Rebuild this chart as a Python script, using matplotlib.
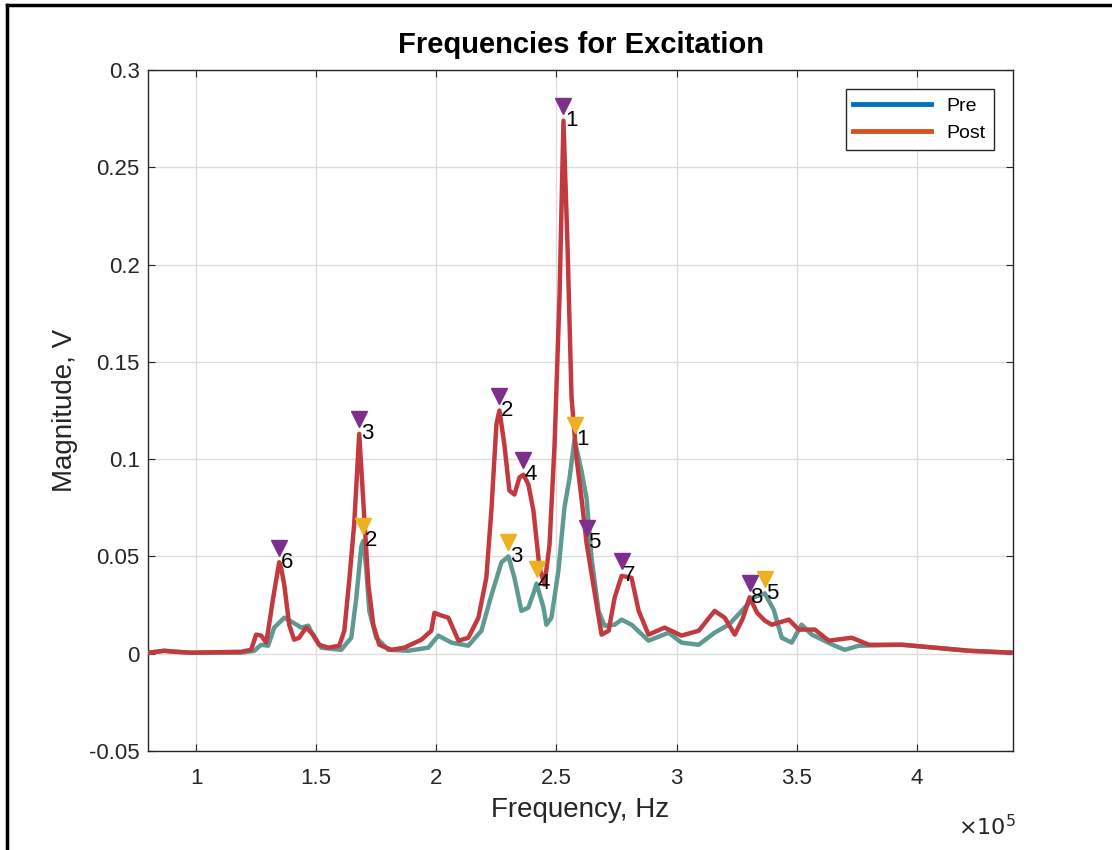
import matplotlib
matplotlib.use('Agg')
import matplotlib.pyplot as plt
from matplotlib.lines import Line2D
import matplotlib.ticker as mticker
import numpy as np

plt.rcParams['font.family'] = ['Liberation Sans', 'DejaVu Sans']

# spectrum, frequency in units of 1e5 Hz
post_f = [0.804, 0.867, 0.908, 0.979, 1.1875, 1.229, 1.25, 1.271, 1.292, 1.304, 1.321, 1.346, 1.354,
          1.367, 1.3875, 1.408, 1.429, 1.458, 1.4875, 1.5125, 1.55, 1.596, 1.617, 1.6375, 1.658, 1.679,
          1.70, 1.717, 1.7375, 1.7625, 1.8125, 1.867, 1.9375, 1.979, 1.992, 2.021, 2.05, 2.092, 2.133,
          2.175, 2.208, 2.229, 2.25, 2.2625, 2.283, 2.304, 2.325, 2.346, 2.3625, 2.383, 2.404, 2.429,
          2.45, 2.471, 2.492, 2.5125, 2.529, 2.546, 2.5625, 2.583, 2.604, 2.625, 2.658, 2.6875, 2.717,
          2.742, 2.771, 2.8125, 2.842, 2.883, 2.95, 3.02, 3.092, 3.158, 3.2, 3.242, 3.275, 3.304, 3.335,
          3.367, 3.396, 3.467, 3.508, 3.575, 3.633, 3.729, 3.8, 3.9375, 4.075, 4.217, 4.396]
post_v = [0.0005, 0.0015, 0.001, 0.0005, 0.001, 0.002, 0.0098, 0.0093, 0.0057, 0.0149, 0.0288, 0.047, 0.044,
          0.0355, 0.0149, 0.0072, 0.0082, 0.0134, 0.0098, 0.0046, 0.0031, 0.0041, 0.0118, 0.0376, 0.0664, 0.113,
          0.070, 0.0355, 0.0149, 0.0046, 0.002, 0.0031, 0.0072, 0.0118, 0.021, 0.0196, 0.0185, 0.0067, 0.0082,
          0.0185, 0.039, 0.0736, 0.118, 0.125, 0.1076, 0.0839, 0.0818, 0.0906, 0.092, 0.087, 0.0736, 0.0443,
          0.0355, 0.056, 0.1076, 0.183, 0.274, 0.209, 0.132, 0.101, 0.080, 0.057, 0.032, 0.0098, 0.0118,
          0.0288, 0.040, 0.039, 0.022, 0.0098, 0.0134, 0.0093, 0.0118, 0.022, 0.0185, 0.0098, 0.018, 0.029, 0.021,
          0.017, 0.0149, 0.0175, 0.0124, 0.0124, 0.0067, 0.0082, 0.0046, 0.0046, 0.0031, 0.0015, 0.0005]

pre_f = [0.804, 0.867, 0.979, 1.1875, 1.242, 1.271, 1.30, 1.325, 1.367, 1.404, 1.4375, 1.467, 1.492,
         1.521, 1.604, 1.646, 1.667, 1.6875, 1.696, 1.708, 1.721, 1.75, 1.80, 1.883, 1.967, 2.008, 2.0625,
         2.133, 2.1875, 2.229, 2.271, 2.30, 2.325, 2.354, 2.383, 2.408, 2.417, 2.446, 2.458, 2.479, 2.508,
         2.533, 2.554, 2.575, 2.604, 2.625, 2.646, 2.675, 2.70, 2.742, 2.771, 2.8125, 2.883, 2.967, 3.02,
         3.092, 3.158, 3.217, 3.271, 3.321, 3.367, 3.404, 3.4375, 3.479, 3.52, 3.5625, 3.658, 3.70, 3.758,
         3.9375, 4.217, 4.396]
pre_v = [0.0005, 0.0015, 0.0005, 0.0005, 0.0015, 0.0046, 0.0041, 0.0134, 0.0185, 0.016, 0.0134, 0.0144, 0.0082,
         0.0031, 0.002, 0.0082, 0.0288, 0.055, 0.058, 0.044, 0.022, 0.0082, 0.002, 0.0015, 0.0031, 0.0093, 0.0057,
         0.0041, 0.0118, 0.030, 0.047, 0.050, 0.039, 0.022, 0.0237, 0.0324, 0.036, 0.0237, 0.0149, 0.0185, 0.0427,
         0.075, 0.090, 0.110, 0.094, 0.080, 0.049, 0.022, 0.0144, 0.0149, 0.0175, 0.0149, 0.0067, 0.0108, 0.0057,
         0.0046, 0.0108, 0.0149, 0.022, 0.029, 0.031, 0.0226, 0.0082, 0.0057, 0.0149, 0.0098, 0.0041, 0.002, 0.0041,
         0.0046, 0.0015, 0.0005]

# labelled peaks
post_pk_f = [2.529, 2.2625, 1.679, 2.3625, 2.625, 1.346, 2.771, 3.304]
post_pk_v = [0.274, 0.125, 0.113, 0.092, 0.057, 0.047, 0.040, 0.029]
pre_pk_f = [2.575, 1.696, 2.30, 2.417, 3.367]
pre_pk_v = [0.110, 0.058, 0.050, 0.036, 0.031]

post_f = np.array(post_f) * 1e5
pre_f = np.array(pre_f) * 1e5

fig = plt.figure(figsize=(11.12, 8.5), dpi=100)
ax = fig.add_axes([0.1331, 0.1165, 0.7779, 0.8011])

ax.plot(pre_f, pre_v, color='#5e9a91', lw=3.2, zorder=3)
ax.plot(post_f, post_v, color='#c23a40', lw=3.2, zorder=4)

ax.plot(np.array(post_pk_f) * 1e5, np.array(post_pk_v) + 0.0075, 'v', color='#7e2f8e', ms=12, zorder=5)
ax.plot(np.array(pre_pk_f) * 1e5, np.array(pre_pk_v) + 0.0075, 'v', color='#edb120', ms=12, zorder=5)
for i in range(len(post_pk_f)):
    ax.text(post_pk_f[i] * 1e5 + 600, post_pk_v[i], str(i + 1), fontsize=16, va='center', ha='left', zorder=6)
for i in range(len(pre_pk_f)):
    ax.text(pre_pk_f[i] * 1e5 + 600, pre_pk_v[i], str(i + 1), fontsize=16, va='center', ha='left', zorder=6)

ax.set_xlim(0.8e5, 4.4e5)
ax.set_ylim(-0.05, 0.3)
ax.set_xticks(np.arange(1, 4.01, 0.5) * 1e5)
ax.set_yticks(np.arange(-0.05, 0.301, 0.05))
ax.xaxis.set_major_formatter(mticker.FuncFormatter(lambda x, p: f'{x / 1e5:g}'))
ax.yaxis.set_major_formatter(mticker.FuncFormatter(lambda y, p: f'{round(y, 2):g}'))
ax.grid(True, color='#dcdcdc', lw=1)
ax.set_axisbelow(True)
ax.tick_params(direction='in', length=5, top=True, right=True, labelsize=16, colors='#262626')
ax.tick_params(axis='x', pad=12)
ax.tick_params(axis='y', pad=6)
for s in ax.spines.values():
    s.set_color('#262626')
    s.set_linewidth(1)

ax.set_title('Frequencies for Excitation', fontsize=21, fontweight='bold', color='black', pad=12)
ax.set_xlabel('Frequency, Hz', fontsize=20, color='#262626', labelpad=6)
ax.set_ylabel('Magnitude, V', fontsize=20, color='#262626', labelpad=8)
ax.text(1.003, -0.113, r'$\times10^{5}$', transform=ax.transAxes, ha='right', va='center', fontsize=16,
        color='#262626', math_fontfamily='dejavusans')

handles = [Line2D([], [], color='#0072bd', lw=3.5), Line2D([], [], color='#d95319', lw=3.5)]
leg = ax.legend(handles, ['Pre', 'Post'], loc='upper right', fontsize=14, handlelength=4.0,
                fancybox=False, edgecolor='#262626', framealpha=1, borderaxespad=1.0)
leg.get_frame().set_linewidth(1)

# figure frame
fig.add_artist(Line2D([0.0063, 0.0063], [0, 0.994], color='black', lw=2.5))
fig.add_artist(Line2D([0.0063, 1.0], [0.994, 0.994], color='black', lw=2.5))

fig.savefig('out.png', dpi=100)
